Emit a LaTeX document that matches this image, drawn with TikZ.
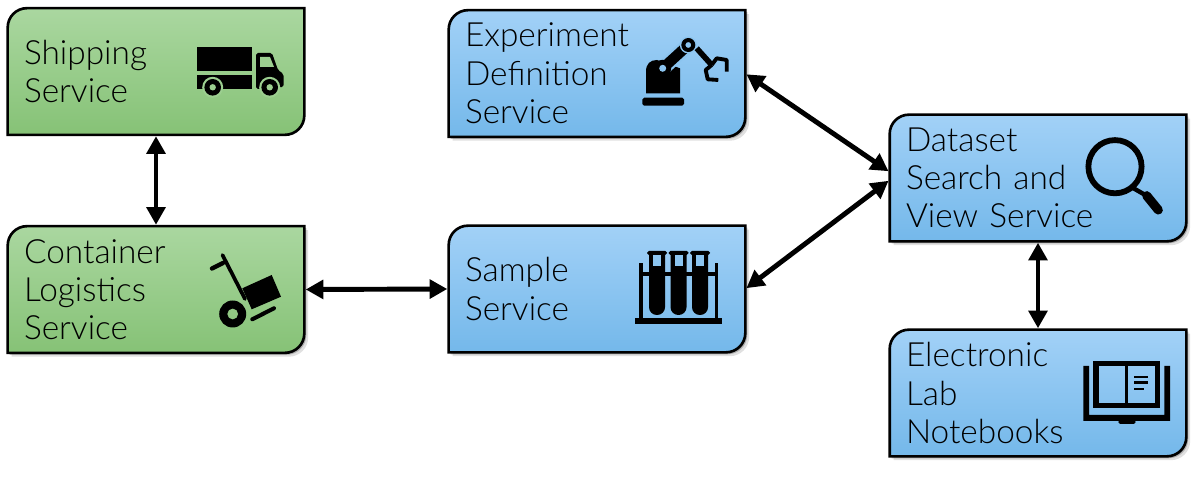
\documentclass[tikz,border=0pt]{standalone}
\usepackage{fontspec}
\setmainfont{Lato Light}[BoldFont=Lato]
\usetikzlibrary{arrows.meta,backgrounds,shadows}

\definecolor{greentop}{HTML}{AAD7A0}
\definecolor{greenbot}{HTML}{86C276}
\definecolor{greenmid}{HTML}{9CCF90}
\definecolor{bluetop}{HTML}{A2D1F7}
\definecolor{bluebot}{HTML}{74B8EA}
\definecolor{bluemid}{HTML}{8CC5F0}

\tikzset{
  svc/.style={minimum width=5.92cm, minimum height=2.52cm, text width=5.28cm,
              inner xsep=0.32cm, inner ysep=0pt, align=left,
              font=\fontsize{19}{21.8}\selectfont},
  outline/.style={draw=black, line width=1.5pt},
  softshadow/.style={drop shadow={shadow xshift=1.1pt, shadow yshift=-1.1pt, opacity=.22, fill=black},
                     drop shadow={shadow xshift=2.2pt, shadow yshift=-2.2pt, opacity=.12, fill=black}},
  greenflat/.style={outline, top color=greentop, bottom color=greenbot},
  greenbox/.style={greenflat, softshadow},
  bluebox/.style={outline, softshadow, top color=bluetop, bottom color=bluebot},
  conn/.style={{Triangle[length=10pt,width=10.5pt]}-{Triangle[length=10pt,width=10.5pt]},
               line width=2.8pt, shorten >=0.8pt, shorten <=0.8pt},
}

\begin{document}
\begin{tikzpicture}[x=0.02cm, y=-0.02cm]
  \useasboundingbox (0,0) rectangle (1198,479);

  \node[svc] (ship) at (156,71.5) {Shipping\\Service};
  \node[svc] (cont) at (156,289.5) {Container\\Logistics\\Service};
  \node[svc] (expt) at (597,73.5) {Experiment\\Definition\\Service};
  \node[svc] (samp) at (597,289) {Sample\\Service};
  \node[svc] (dset) at (1038,178) {Dataset\\Search and\\View Service};
  \node[svc] (book) at (1038,393) {Electronic\\Lab\\Notebooks};

  % boxes go behind the text
  \begin{pgfonlayer}{background}
    \foreach \nm/\look in {ship/greenflat, cont/greenbox, expt/bluebox,
                           samp/bluebox, dset/bluebox, book/bluebox} {
      \draw[\look] (\nm.south west) [rounded corners=11pt] -- (\nm.north west)
        [sharp corners] -- (\nm.north east) [rounded corners=11pt] -- (\nm.south east)
        [sharp corners] -- cycle;
    }
  \end{pgfonlayer}

  \draw[conn] (ship.south) -- (cont.north);
  \draw[conn] (cont.east) -- (samp.west);
  \draw[conn] (expt.east) -- ([yshift=3.4pt]dset.west);
  \draw[conn] (samp.east) -- ([yshift=-1.1pt]dset.west);
  \draw[conn] (dset.south) -- (book.north);

  % truck
  \fill (196.7,47.3) rectangle (251.7,70.7);
  \fill (196.7,75) rectangle (251.7,89);
  \fill[rounded corners=1pt] (256,89) -- (256,53) -- (272,53) -- (278,70) -- (283.5,74) -- (283.5,87) -- cycle;
  \fill[greenmid] (260,57) -- (270,57) -- (274,67) -- (260,67) -- cycle;
  \foreach \wx in {212.7,269.7} {
    \fill[greenmid] (\wx,87.3) circle (10.5);
    \fill (\wx,87.3) circle (8.3);
    \fill[greenmid] (\wx,87.3) circle (3.2);
  }

  % hand truck
  \draw[line width=2.1pt, line cap=round] (222.5,255) -- (245,299);
  \draw[line width=2.5pt, line cap=round] (212,268.5) -- (223,263);
  \fill (242.3,288.3) -- (271.7,275) -- (281,296.7) -- (251.7,309.3) -- cycle;
  \draw[line width=2.3pt, line cap=round] (252.3,319.3) -- (274,308.3);
  \fill[even odd rule] (232.7,314) circle (13.5) (232.7,314) circle (5.5);

  % robot arm
  \fill[rounded corners=1pt] (642.3,97.7) rectangle (684,105.7);
  \fill (646,93.3) -- (646,71.7) .. controls (646,64) and (650,60) .. (657,60) -- (680,68.3) -- (680,93.3) -- cycle;
  \draw[bluemid, line width=8.5pt, line cap=round] (662.7,68.3) -- (688.3,45);
  \draw[line width=6pt, line cap=round] (662.7,68.3) -- (688.3,45);
  \fill (662.7,68.3) circle (8.5);
  \fill[bluemid] (662.7,68.3) circle (3.5);
  \fill[bluemid] (688.3,45) circle (8.5);
  \fill[even odd rule] (688.3,45) circle (7) (688.3,45) circle (3);
  \draw[line width=3.2pt] (696.7,48.3) -- (711.7,65);
  \draw[line width=2.2pt, line join=round] (711.7,65) -- (716.7,58.3) -- (726.7,60) -- (726.7,71.7);
  \draw[line width=2.2pt, line join=round] (711.7,65) -- (705.7,70) -- (707.7,79.3) -- (718.3,80);

  % test tubes in a rack
  \fill (635.3,318.3) rectangle (722.3,324);
  \fill (639.3,262.7) rectangle (643.3,318.3);
  \fill (715,262.7) rectangle (718.3,318.3);
  \fill (643,272.3) rectangle (715,275.7);
  \foreach \tx in {657,678.5,700} {
    \fill (\tx-8,253) [rounded corners=4.4pt] -- (\tx-8,315) -- (\tx+8,315) [sharp corners] -- (\tx+8,253) -- cycle;
    \fill[bluemid] (\tx-4,255) rectangle (\tx+4,265.7);
    \fill[rounded corners=1pt] (\tx-10,251) rectangle (\tx+10,255);
  }

  % magnifier
  \draw[line width=3.3pt] (1115,166.7) circle (26.6);
  \draw[line width=2.5pt] (1133,188) -- (1147,196);
  \draw[line width=5.2pt, line cap=round] (1146.7,195.7) -- (1158.3,210);

  % open book
  \draw[line width=3.3pt] (1096,363.5) rectangle (1157.5,405.5);
  \fill (1125,361) rectangle (1128.3,405);
  \fill (1083.3,366) -- (1089,366) -- (1089,415) -- (1164.3,415) -- (1164.3,366) -- (1170,366) -- (1170,421) -- (1083.3,421) -- cycle;
  \fill[rounded corners=1pt] (1118.3,420) rectangle (1135.7,424);
  \fill (1134.3,376) rectangle (1148.3,378.3);
  \fill (1134.3,381.3) rectangle (1148.3,383.7);
  \fill (1134.3,387.7) rectangle (1144,390.3);
\end{tikzpicture}
\end{document}
